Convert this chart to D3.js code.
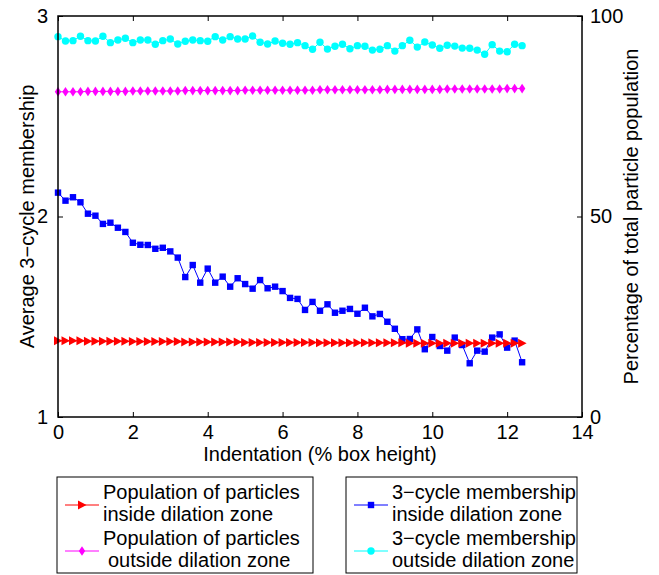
<!DOCTYPE html>
<html><head><meta charset="utf-8">
<script src="https://cdn.jsdelivr.net/npm/d3@7"></script>
<style>body{margin:0;background:#fff} text{font-family:"Liberation Sans",Arial,sans-serif;fill:#000}</style>
</head><body><svg id="c" width="659" height="575"></svg>
<script>
const indentation = [0,0.2,0.4,0.6,0.8,1.0,1.2,1.4,1.6,1.8,2.0,2.2,2.4,2.6,2.8,3.0,3.2,3.4,3.6,3.8,4.0,4.2,4.4,4.6,4.8,5.0,5.2,5.4,5.6,5.8,6.0,6.2,6.4,6.6,6.8,7.0,7.2,7.4,7.6,7.8,8.0,8.2,8.4,8.6,8.8,9.0,9.2,9.4,9.6,9.8,10.0,10.2,10.4,10.6,10.8,11.0,11.2,11.4,11.6,11.8,12.0,12.2,12.4];
const popInside = [19.0,19.0,19.0,19.0,18.9,18.9,18.9,18.9,18.9,18.9,
 18.8,18.8,18.8,18.8,18.8,18.8,18.8,18.7,18.7,18.7,
 18.7,18.7,18.7,18.7,18.7,18.6,18.6,18.6,18.6,18.6,
 18.6,18.6,18.6,18.6,18.6,18.5,18.5,18.5,18.5,18.5,
 18.5,18.5,18.5,18.5,18.5,18.5,18.5,18.4,18.4,18.4,
 18.4,18.4,18.4,18.4,18.4,18.4,18.4,18.4,18.4,18.4,
 18.4,18.4,18.4];
const popOutside = [81.1,81.1,81.1,81.1,81.2,81.2,81.2,81.2,81.2,81.2,
 81.3,81.3,81.3,81.3,81.3,81.3,81.3,81.4,81.4,81.4,
 81.4,81.4,81.4,81.4,81.4,81.5,81.5,81.5,81.5,81.5,
 81.5,81.5,81.5,81.5,81.5,81.6,81.6,81.6,81.6,81.6,
 81.6,81.6,81.6,81.6,81.7,81.7,81.7,81.7,81.7,81.7,
 81.7,81.7,81.8,81.8,81.8,81.8,81.8,81.8,81.8,81.8,
 81.9,81.9,81.9];
const cycleInside = [2.119,2.079,2.096,2.071,2.014,2.004,1.963,1.969,1.944,1.923,
 1.869,1.859,1.858,1.839,1.844,1.826,1.795,1.698,1.758,1.670,
 1.740,1.670,1.700,1.650,1.692,1.663,1.640,1.683,1.642,1.650,
 1.628,1.594,1.589,1.534,1.574,1.530,1.562,1.520,1.530,1.539,
 1.515,1.545,1.502,1.514,1.475,1.440,1.388,1.389,1.437,1.338,
 1.399,1.354,1.331,1.396,1.359,1.268,1.331,1.326,1.396,1.412,
 1.346,1.381,1.273];
const cycleOutside = [2.897,2.875,2.877,2.899,2.877,2.875,2.899,2.867,2.880,2.889,
 2.867,2.880,2.880,2.859,2.877,2.885,2.860,2.874,2.880,2.877,
 2.874,2.897,2.880,2.897,2.885,2.885,2.900,2.869,2.860,2.875,
 2.864,2.859,2.867,2.852,2.834,2.869,2.835,2.849,2.859,2.837,
 2.852,2.849,2.830,2.834,2.852,2.825,2.852,2.879,2.845,2.870,
 2.855,2.839,2.854,2.850,2.840,2.839,2.830,2.809,2.857,2.825,
 2.822,2.859,2.852];
const xTicks = [0,2,4,6,8,10,12,14];
const leftTicks = [1,2,3];
const rightTicks = [0,50,100];
const xLabel = "Indentation (% box height)";
const leftLabel = "Average 3\u2212cycle membership";
const rightLabel = "Percentage of total particle population";
const legendLeft = [["Population of particles","inside dilation zone"],["Population of particles","outside dilation zone"]];
const legendRight = [["3\u2212cycle membership","inside dilation zone"],["3\u2212cycle membership","outside dilation zone"]];

const svg = d3.select("#c");
const L=58, R=582, T=16, B=417;
const x = d3.scaleLinear().domain([0,14]).range([L,R]);
const yL = d3.scaleLinear().domain([1,3]).range([B,T]);
const yR = d3.scaleLinear().domain([0,100]).range([B,T]);

const tri = "M-4,-4.5L4.5,0L-4,4.5Z";
const dia = "M0,-4.8L3.2,0L0,4.8L-3.2,0Z";

function series(vals, y, color, marker){
  const g = svg.append("g");
  g.append("path").datum(vals)
   .attr("fill","none").attr("stroke",color).attr("stroke-width",1)
   .attr("d", d3.line().x((d,i)=>x(indentation[i])).y(d=>y(d)));
  drawMarkers(g, vals.map((d,i)=>[x(indentation[i]), y(d)]), color, marker);
}
function drawMarkers(g, pts, color, marker){
  pts.forEach(([px,py])=>{
    if(marker==="tri") g.append("path").attr("d",tri).attr("transform",`translate(${px},${py})`).attr("fill",color);
    else if(marker==="dia") g.append("path").attr("d",dia).attr("transform",`translate(${px},${py})`).attr("fill",color);
    else if(marker==="sq") g.append("rect").attr("x",px-3.2).attr("y",py-3.2).attr("width",6.4).attr("height",6.4).attr("fill",color);
    else g.append("circle").attr("cx",px).attr("cy",py).attr("r",3.7).attr("fill",color);
  });
}

series(cycleInside, yL, "#0000ff", "sq");
series(cycleOutside, yL, "#00ffff", "circ");
series(popInside, yR, "#ff0000", "tri");
series(popOutside, yR, "#ff00ff", "dia");

const ax = svg.append("g").attr("stroke","#000").attr("stroke-width",1.5).attr("fill","none");
ax.append("rect").attr("x",L).attr("y",T).attr("width",R-L).attr("height",B-T);

svg.append("g").attr("transform",`translate(0,${B})`)
  .call(d3.axisBottom(x).tickValues(xTicks).tickSize(-5).tickFormat(d3.format("d")))
  .call(g=>{g.select(".domain").remove(); g.selectAll("text").attr("font-size",20).attr("font-family","Liberation Sans").attr("dy","0.71em").attr("y",8);});
svg.append("g").attr("transform",`translate(0,${T})`)
  .call(d3.axisTop(x).tickValues(xTicks).tickSize(-5).tickFormat(""))
  .call(g=>g.select(".domain").remove());
svg.append("g").attr("transform",`translate(${L},0)`)
  .call(d3.axisLeft(yL).tickValues(leftTicks).tickSize(-5).tickPadding(10).tickFormat(d3.format("d")))
  .call(g=>{g.select(".domain").remove(); g.selectAll("text").attr("font-size",20).attr("font-family","Liberation Sans");});
svg.append("g").attr("transform",`translate(${R},0)`)
  .call(d3.axisRight(yR).tickValues(rightTicks).tickSize(-5).tickPadding(8).tickFormat(d3.format("d")))
  .call(g=>{g.select(".domain").remove(); g.selectAll("text").attr("font-size",20).attr("font-family","Liberation Sans");});
svg.selectAll(".tick line").attr("stroke","#000").attr("stroke-width",1);

svg.append("text").attr("x",(L+R)/2).attr("y",461).attr("text-anchor","middle").attr("font-size",20).text(xLabel);
svg.append("text").attr("transform",`translate(34,${(T+B)/2}) rotate(-90)`).attr("text-anchor","middle").attr("font-size",20).text(leftLabel);
svg.append("text").attr("transform",`translate(638,${(T+B)/2}) rotate(-90)`).attr("text-anchor","middle").attr("font-size",20).text(rightLabel);

function legend(x0, x1, items, colors, markers, indents){
  const y0=477, y1=573;
  svg.append("rect").attr("x",x0).attr("y",y0).attr("width",x1-x0).attr("height",y1-y0)
    .attr("fill","#fff").attr("stroke","#000").attr("stroke-width",1);
  items.forEach((lines,i)=>{
    const cy = 505 + i*46;
    const g = svg.append("g");
    g.append("line").attr("x1",x0+8).attr("x2",x0+42).attr("y1",cy).attr("y2",cy).attr("stroke",colors[i]).attr("stroke-width",1);
    drawMarkers(g, [[x0+25, cy]], colors[i], markers[i]);
    lines.forEach((t,j)=>{
      svg.append("text").attr("x",x0+46+(j===1?indents[i]:0)).attr("y",cy-6+j*22).attr("font-size",20).text(t);
    });
  });
}
legend(57, 313, legendLeft, ["#ff0000","#ff00ff"], ["tri","dia"], [0,5]);
legend(346, 577, legendRight, ["#0000ff","#00ffff"], ["sq","circ"], [0,0]);
</script></body></html>
